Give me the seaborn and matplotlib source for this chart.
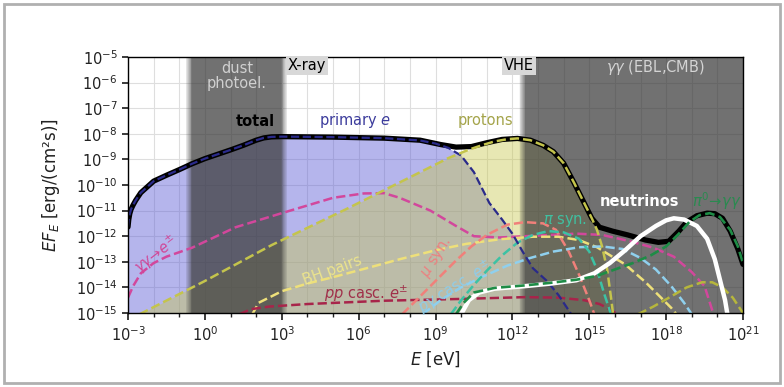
import numpy as np
import matplotlib
matplotlib.use("Agg")
import matplotlib.pyplot as plt
import seaborn as sns
from matplotlib.patches import Rectangle
from matplotlib.ticker import NullFormatter, NullLocator

# ---------------- data (log10 E [eV], log10 E F_E [erg/(cm^2 s)]) ----------------
total_logE = [-3.0, -2.97, -2.93, -2.88, -2.8, -2.7, -2.5, -2.0, -1.5, -1.0, -0.5, 0.0, 0.5, 1.0,
              1.5, 2.0, 2.3, 2.6, 3.0, 5.0, 7.0, 8.4, 9.2, 9.8, 10.4, 11.0, 11.6, 12.2, 12.7, 13.2,
              13.6, 14.0, 14.4, 14.8, 15.1, 15.4, 15.9, 16.5, 17.2, 17.7, 18.1, 18.5, 18.8, 19.2,
              19.6, 19.9, 20.2, 20.5, 20.8, 21.0]
total_logF = [-11.64, -11.35, -11.12, -10.95, -10.78, -10.6, -10.3, -9.85, -9.62, -9.4, -9.17,
              -8.97, -8.8, -8.63, -8.45, -8.25, -8.16, -8.12, -8.11, -8.13, -8.17, -8.25, -8.42,
              -8.52, -8.5, -8.35, -8.22, -8.18, -8.25, -8.45, -8.7, -9.15, -9.9, -10.7, -11.3,
              -11.65, -11.8, -11.95, -12.15, -12.24, -12.2, -11.8, -11.45, -11.2, -11.1, -11.12,
              -11.3, -11.8, -12.5, -13.1]

prim_logE = [-3.0, -2.97, -2.93, -2.88, -2.8, -2.7, -2.5, -2.0, -1.5, -1.0, -0.5, 0.0, 0.5, 1.0,
             1.5, 2.0, 2.3, 2.6, 3.0, 5.0, 7.0, 8.4, 9.0, 9.5, 10.0, 10.5, 11.1, 11.6, 12.0, 12.4,
             12.8, 13.35, 13.8, 14.3]
prim_logF = [-11.64, -11.35, -11.12, -10.95, -10.78, -10.6, -10.3, -9.85, -9.62, -9.4, -9.17,
             -8.97, -8.8, -8.63, -8.45, -8.25, -8.16, -8.12, -8.11, -8.13, -8.17, -8.26, -8.38,
             -8.55, -8.85, -9.5, -10.7, -11.35, -11.9, -12.6, -13.25, -13.75, -14.3, -15.05]

prot_logE = [-2.55, 0.0, 2.6, 5.5, 8.0, 9.5, 10.3, 10.8, 11.3, 11.8, 12.2, 12.7, 13.2, 13.6, 14.0,
             14.4, 14.8, 15.1, 15.3, 15.5, 15.7, 15.85, 15.95]
prot_logF = [-15.05, -13.75, -12.35, -10.95, -9.7, -8.95, -8.62, -8.45, -8.3, -8.21, -8.18, -8.25,
             -8.45, -8.7, -9.15, -9.9, -10.7, -11.3, -11.75, -12.4, -13.3, -14.4, -15.2]

ggee_logE = [-3.0, -2.8, -2.5, -2.0, -1.5, -0.5, 1.2, 3.0, 5.0, 6.2, 7.0, 7.6, 8.8, 9.8, 10.5, 11.5,
             12.5, 13.5, 14.5, 15.5, 16.6, 17.5, 18.3, 19.0, 19.5, 19.85]
ggee_logF = [-14.4, -13.95, -13.45, -13.05, -12.8, -12.45, -11.65, -11.1, -10.5, -10.33, -10.32,
             -10.5, -11.0, -11.6, -12.0, -12.05, -12.0, -11.95, -11.9, -11.95, -12.2, -12.45, -12.8,
             -13.4, -13.95, -15.05]

bh_logE = [1.85, 2.1, 3.0, 4.0, 5.0, 6.5, 7.6, 9.0, 10.2, 11.5, 12.8, 13.8, 14.6, 15.3, 15.9, 16.4,
           17.2, 17.8, 18.2, 18.4]
bh_logF = [-15.05, -14.6, -14.15, -13.85, -13.6, -13.2, -12.9, -12.55, -12.3, -12.12, -12.02, -12.02,
           -12.15, -12.43, -12.8, -13.1, -13.8, -14.4, -14.8, -15.05]

pp_logE = [1.35, 1.8, 2.5, 4.0, 7.0, 10.0, 12.5, 13.8, 14.8, 15.4, 15.8, 16.1]
pp_logF = [-15.05, -14.85, -14.75, -14.65, -14.52, -14.45, -14.38, -14.4, -14.5, -14.65, -14.85, -15.05]

mu_logE = [7.7, 8.2, 9.0, 9.8, 10.4, 11.0, 11.8, 12.5, 13.2, 13.7, 14.2, 14.6, 15.0, 15.2]
mu_logF = [-15.05, -14.55, -13.75, -12.95, -12.4, -11.95, -11.55, -11.45, -11.5, -11.75, -12.6,
           -13.5, -14.5, -15.05]

pg_logE = [8.5, 9.2, 10.0, 10.8, 11.8, 12.7, 13.6, 14.6, 15.5, 16.3, 17.0, 17.6, 18.2, 18.7, 19.0]
pg_logF = [-15.05, -14.5, -14.0, -13.6, -13.15, -12.85, -12.6, -12.43, -12.4, -12.5, -12.85, -13.3,
           -13.95, -14.6, -15.05]

pisyn_logE = [9.6, 10.0, 10.5, 11.0, 11.6, 12.2, 12.8, 13.4, 14.0, 14.6, 15.0, 15.3, 15.6, 15.85]
pisyn_logF = [-15.05, -14.5, -13.9, -13.35, -12.75, -12.25, -11.95, -11.8, -11.85, -12.1, -12.6,
              -13.3, -14.3, -15.05]

nu_logE = [10.0, 10.3, 10.7, 11.3, 12.5, 13.5, 14.5, 15.2, 15.8, 16.4, 17.0, 17.6, 18.0, 18.3, 18.7,
           19.2, 19.6, 19.9, 20.1, 20.3, 20.4]
nu_logF = [-15.05, -14.5, -14.2, -14.05, -13.95, -13.85, -13.72, -13.45, -13.05, -12.55, -12.0,
           -11.6, -11.38, -11.3, -11.35, -11.6, -12.1, -12.9, -13.7, -14.5, -15.1]

pi0_logE = [9.8, 10.1, 10.5, 11.3, 12.5, 13.5, 14.5, 15.3, 16.0, 16.7, 17.4, 18.0, 18.5, 18.9, 19.3,
            19.7, 20.1, 20.5, 20.8, 21.0]
pi0_logF = [-15.05, -14.6, -14.2, -14.02, -13.92, -13.82, -13.7, -13.55, -13.3, -13.05, -12.75,
            -12.4, -11.9, -11.45, -11.18, -11.1, -11.25, -11.75, -12.4, -13.05]

olive_logE = [16.9, 17.5, 18.2, 18.8, 19.4, 19.8, 20.2, 20.6, 21.0]
olive_logF = [-15.05, -14.75, -14.35, -14.0, -13.8, -13.8, -14.0, -14.4, -15.0]

# shaded energy bands (log10 E)
dust_band = [-0.62, 3.09]
gg_band = [12.38, 22.0]

x_major = [-3, 0, 3, 6, 9, 12, 15, 18, 21]
y_major = list(range(-15, -4))

# ---------------- style ----------------
sns.set_theme(style="whitegrid", rc={
    "axes.edgecolor": "black", "axes.linewidth": 1.0,
    "grid.color": "#dedede", "grid.linewidth": 0.8,
    "xtick.bottom": True, "ytick.left": True,
    "xtick.color": "#222222", "ytick.color": "#222222",
    "xtick.major.size": 5, "xtick.minor.size": 3, "ytick.major.size": 4,
    "text.color": "black", "axes.labelcolor": "#222222",
})
plt.rcParams["font.family"] = ["DejaVu Sans"]

fig = plt.figure(figsize=(7.84, 3.87), dpi=100)
ax = fig.add_axes([128 / 784, 1 - 313 / 387, (743 - 128) / 784, (313 - 57) / 387])
ax.set_xscale("log")
ax.set_yscale("log")
ax.set_xlim(1e-3, 1e21)
ax.set_ylim(1e-15, 1e-5)
ax.set_axisbelow(True)


def arr(le, lf):
    return 10.0 ** np.asarray(le, float), 10.0 ** np.asarray(lf, float)


def soft_band(lo, hi, color, alpha, soft=0.13, n=8):
    ax.axvspan(10 ** (lo + soft), 10 ** (hi - soft), color=color, alpha=alpha, lw=0, zorder=2)
    for edge, sgn in ((lo, 1), (hi, -1)):
        for i in range(n):
            a = edge - sgn * soft + sgn * i * 2 * soft / n
            b = edge - sgn * soft + sgn * (i + 1) * 2 * soft / n
            lo_, hi_ = min(a, b), max(a, b)
            ax.axvspan(10 ** lo_, 10 ** hi_, color=color, alpha=alpha * (i + 0.5) / n, lw=0, zorder=2)


# fills
E, F = arr(prim_logE, prim_logF)
ax.fill_between(E, F, 1e-16, color="#5b5bd6", alpha=0.45, lw=0, zorder=1)
E, F = arr(prot_logE, prot_logF)
ax.fill_between(E, F, 1e-16, color="#c8c84a", alpha=0.42, lw=0, zorder=1)

# bands
soft_band(dust_band[0], dust_band[1], "#3a3a3a", 0.72)
soft_band(gg_band[0], gg_band[1], "#3a3a3a", 0.72)


def line(le, lf, color, lw=1.8, ls="--", z=4):
    E, F = arr(le, lf)
    sns.lineplot(x=E, y=F, ax=ax, color=color, lw=lw, linestyle=ls, sort=False,
                 estimator=None, zorder=z, legend=False)


line(total_logE, total_logF, "black", lw=3.8, ls="-", z=3)
line(ggee_logE, ggee_logF, "#d2479c")
line(bh_logE, bh_logF, "#eee07a")
line(pp_logE, pp_logF, "#a8244a")
line(mu_logE, mu_logF, "#f0807a")
line(pg_logE, pg_logF, "#8fd0ee")
line(pisyn_logE, pisyn_logF, "#3cc2a4")
line(olive_logE, olive_logF, "#b6b63c")
line(prim_logE, prim_logF, "#2a2a8a", lw=1.6, z=4.2)
line(prot_logE, prot_logF, "#c4c44c", lw=1.8, z=4.2)
line(nu_logE, nu_logF, "white", lw=3.2, ls="-", z=4.5)
line(pi0_logE, pi0_logF, "#1e8c46", lw=1.9, z=5)

# ticks
ax.set_xticks([10.0 ** k for k in x_major])
ax.set_xticks([10.0 ** k for k in range(-3, 22) if k not in x_major], minor=True)
ax.xaxis.set_minor_formatter(NullFormatter())
ax.set_yticks([10.0 ** k for k in y_major])
ax.yaxis.set_minor_locator(NullLocator())
ax.tick_params(axis="both", which="major", labelsize=10.5)
ax.grid(True, which="both", axis="x", color="#dedede", lw=0.8)
ax.grid(True, which="major", axis="y", color="#dedede", lw=0.8)
for s in ax.spines.values():
    s.set_color("black")
    s.set_zorder(8)

ax.set_xlabel(r"$E$ [eV]", fontsize=12)
ax.set_ylabel(r"$EF_E$ [erg/(cm²s)]", fontsize=12, labelpad=10)

# annotations
T = dict(zorder=9)
ax.text(10 ** 1.25, 10 ** -5.75, "dust\nphotoel.", color="#d0d0d0", fontsize=10.5,
        ha="center", va="center", linespacing=1.0, **T)
ax.text(10 ** 3.99, 10 ** -5.05, "X-ray", color="black", fontsize=10.5, ha="center", va="top",
        bbox=dict(facecolor="#d8d8d8", edgecolor="none", pad=1.5), **T)
ax.text(10 ** 12.26, 10 ** -5.05, "VHE", color="black", fontsize=10.5, ha="center", va="top",
        bbox=dict(facecolor="#d8d8d8", edgecolor="none", pad=1.5), **T)
ax.text(10 ** 17.57, 10 ** -5.4, r"$\gamma\gamma$ (EBL,CMB)", color="#d4d4d4", fontsize=10.5,
        ha="center", va="center", **T)
ax.text(10 ** 1.96, 10 ** -7.5, "total", color="black", fontsize=10.5, fontweight="bold",
        ha="center", va="center", **T)
ax.text(10 ** 5.86, 10 ** -7.5, r"primary $e$", color="#3c3c9c", fontsize=10.5,
        ha="center", va="center", **T)
ax.text(10 ** 10.93, 10 ** -7.5, "protons", color="#a4a44a", fontsize=10.5,
        ha="center", va="center", **T)
ax.text(10 ** 16.98, 10 ** -10.64, "neutrinos", color="white", fontsize=10.5, fontweight="bold",
        ha="center", va="center", **T)
ax.text(10 ** 19.0, 10 ** -10.64, r"$\pi^0\!\to\!\gamma\gamma$", color="#2a8a50", fontsize=10.5,
        ha="left", va="center", clip_on=True, **T)
ax.text(10 ** 14.05, 10 ** -11.39, r"$\pi$ syn.", color="#40c0a0", fontsize=10.5,
        ha="center", va="center", **T)
ax.text(10 ** -1.91, 10 ** -12.71, r"$\gamma\gamma\!\to\!e^{\pm}$", color="#d04898", fontsize=10.5,
        ha="center", va="center", rotation=38, **T)
ax.text(10 ** 4.96, 10 ** -13.33, "BH pairs", color="#ece48c", fontsize=10.5,
        ha="center", va="center", rotation=20, **T)
ax.text(10 ** 6.29, 10 ** -14.27, r"$pp$ casc. $e^{\pm}$", color="#a0304a", fontsize=10.5,
        ha="center", va="center", **T)
ax.text(10 ** 9.06, 10 ** -12.83, r"$\mu$ syn.", color="#ec8080", fontsize=10.5,
        ha="center", va="center", rotation=58, **T)
ax.text(10 ** 9.76, 10 ** -14.0, r"$p\gamma$ casc. $e^{\pm}$", color="#90cce8", fontsize=10.5,
        ha="center", va="center", rotation=32, **T)

# figure frame
fig.patches.append(Rectangle((4 / 784, 4 / 387), 776 / 784, 379 / 387, transform=fig.transFigure,
                             fill=False, edgecolor="#b0b0b0", lw=2))

fig.savefig("out.png", dpi=100)
